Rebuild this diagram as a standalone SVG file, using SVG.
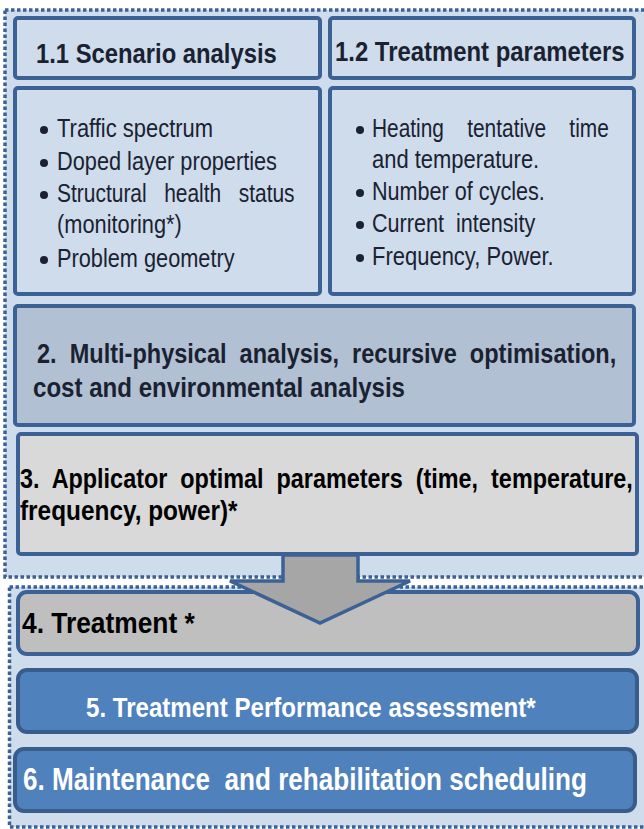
<svg xmlns="http://www.w3.org/2000/svg" width="644" height="829" viewBox="0 0 644 829">
<style>
.frame{fill:#cfdcec;stroke:#3c6195;stroke-width:3.5;stroke-dasharray:3.5 2.5}
.box{stroke:#3c6195;stroke-width:4}
.lb{fill:#cfdcec}
.b2{fill:#b2c0d3}
.b3{fill:#d9d9d9}
.b4{fill:#bfbfbf}
.bb{fill:#4f81bd;stroke:#385d8a}
text{font-family:"Liberation Sans",Arial,sans-serif;font-size:26px;white-space:pre}
.h{font-weight:bold;fill:#1a2231;font-size:27px}
.t{fill:#1a2231}
.k{font-weight:bold;fill:#000;font-size:27px}
.w{font-weight:bold;fill:#fff}
.d{fill:#1a2231}
</style>
<rect x="0" y="0" width="644" height="829" fill="#fff"/>
<rect class="frame" x="5" y="10" width="650" height="567"/>
<rect class="frame" x="9.5" y="587" width="650" height="240"/>

<g id="n11h"><rect class="box lb" x="15" y="18" width="305" height="60" rx="3"/>
<text class="h" transform="translate(36,63) scale(0.8,1)" textLength="301" lengthAdjust="spacingAndGlyphs">1.1 Scenario analysis</text></g>
<g id="n12h"><rect class="box lb" x="330" y="18" width="304" height="60" rx="3"/>
<text class="h" transform="translate(335,61) scale(0.8,1)" textLength="362" lengthAdjust="spacingAndGlyphs">1.2 Treatment parameters</text></g>

<g id="n11b"><rect class="box lb" x="15" y="88" width="305" height="206" rx="3"/>
<circle class="d" cx="44" cy="130" r="4"/>
<text class="t" transform="translate(57,137) scale(0.8,1)" textLength="195" lengthAdjust="spacingAndGlyphs">Traffic spectrum</text>
<circle class="d" cx="44" cy="163" r="4"/>
<text class="t" transform="translate(57,170) scale(0.8,1)" textLength="275" lengthAdjust="spacingAndGlyphs">Doped layer properties</text>
<circle class="d" cx="44" cy="195" r="4"/>
<text class="t" transform="translate(57,202) scale(0.8,1)" textLength="297" lengthAdjust="spacingAndGlyphs" xml:space="preserve">Structural   health   status</text>
<text class="t" transform="translate(57,233) scale(0.8,1)" textLength="156" lengthAdjust="spacingAndGlyphs">(monitoring*)</text>
<circle class="d" cx="44" cy="260" r="4"/>
<text class="t" transform="translate(57,267) scale(0.8,1)" textLength="222" lengthAdjust="spacingAndGlyphs">Problem geometry</text>
</g>

<g id="n12b"><rect class="box lb" x="330" y="88" width="304" height="206" rx="3"/>
<circle class="d" cx="360" cy="130" r="4"/>
<text class="t" transform="translate(372,137) scale(0.8,1)" textLength="296" lengthAdjust="spacingAndGlyphs" xml:space="preserve">Heating    tentative    time</text>
<text class="t" transform="translate(372,168) scale(0.8,1)" textLength="209" lengthAdjust="spacingAndGlyphs">and temperature.</text>
<circle class="d" cx="360" cy="193" r="4"/>
<text class="t" transform="translate(372,200) scale(0.8,1)" textLength="216" lengthAdjust="spacingAndGlyphs">Number of cycles.</text>
<circle class="d" cx="360" cy="225" r="4"/>
<text class="t" transform="translate(372,232) scale(0.8,1)" textLength="204" lengthAdjust="spacingAndGlyphs" xml:space="preserve">Current  intensity</text>
<circle class="d" cx="360" cy="258" r="4"/>
<text class="t" transform="translate(372,265) scale(0.8,1)" textLength="227" lengthAdjust="spacingAndGlyphs">Frequency, Power.</text>
</g>

<g id="n2"><rect class="box b2" x="15" y="306" width="619" height="119" rx="3"/>
<text class="h" transform="translate(37,363) scale(0.8,1)" textLength="724" lengthAdjust="spacingAndGlyphs" xml:space="preserve">2.  Multi-physical  analysis,  recursive  optimisation,</text>
<text class="h" transform="translate(33,397) scale(0.8,1)" textLength="465" lengthAdjust="spacingAndGlyphs">cost and environmental analysis</text></g>

<g id="n3"><rect class="box b3" x="18" y="434" width="619" height="120" rx="3"/>
<text class="k" transform="translate(20,488) scale(0.8,1)" textLength="766" lengthAdjust="spacingAndGlyphs" xml:space="preserve">3.  Applicator  optimal  parameters  (time,  temperature,</text>
<text class="k" transform="translate(20,520) scale(0.8,1)" textLength="272" lengthAdjust="spacingAndGlyphs">frequency, power)*</text></g>

<g id="n4"><rect class="box b4" x="18" y="592" width="620" height="62" rx="9"/>
<text class="k" transform="translate(22,633) scale(0.8,1)" style="font-size:30px" textLength="216" lengthAdjust="spacingAndGlyphs">4. Treatment *</text></g>

<g id="connectors">
<polygon points="283,555 358,555 358,581 410,581 320,623 230,581 283,581" fill="#a6a6a6" stroke="#3c6195" stroke-width="3.5" stroke-linejoin="miter"/>
</g>

<g id="n5"><rect class="box bb" x="18" y="670" width="619" height="62" rx="9"/>
<text class="w" transform="translate(86,717) scale(0.8,1)" style="font-size:27px" textLength="562" lengthAdjust="spacingAndGlyphs">5. Treatment Performance assessment*</text></g>

<g id="n6"><rect class="box bb" x="15" y="749" width="620" height="62" rx="9"/>
<text class="w" transform="translate(23,790) scale(0.8,1)" style="font-size:31px" textLength="705" lengthAdjust="spacingAndGlyphs" xml:space="preserve">6. Maintenance  and rehabilitation scheduling</text></g>
</svg>
